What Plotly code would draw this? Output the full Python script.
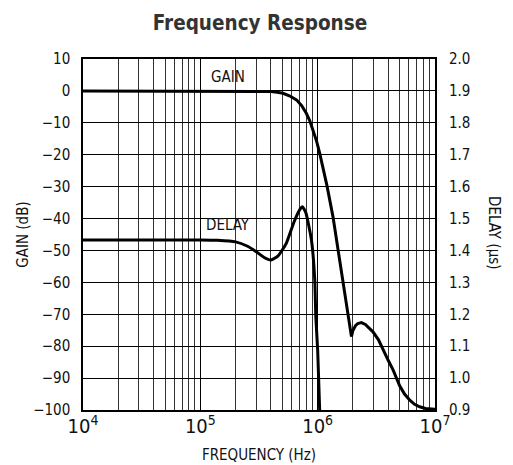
import plotly.graph_objects as go

# Gain curve (frequency in Hz, gain in dB)
gain_freq = [1e4, 1e5, 3e5, 4e5, 4.5e5, 5.07e5, 5.8e5, 6.6e5, 7.3e5, 8.0e5, 8.6e5,
             9.15e5, 9.8e5, 1.04e6, 1.2e6, 1.35e6, 1.5e6, 1.65e6, 1.8e6, 1.94e6,
             2.0e6, 2.1e6, 2.2e6, 2.36e6, 2.55e6, 2.7e6, 2.96e6, 3.3e6, 3.6e6,
             4.0e6, 4.4e6, 4.7e6, 5.0e6, 5.5e6, 6.1e6, 6.7e6, 7.4e6, 8.3e6, 9.3e6, 1e7]
gain_db = [0, 0, 0, -0.2, -0.4, -0.75, -1.6, -2.8, -4.6, -7, -9.5,
           -12.2, -15.8, -19.5, -29.7, -39.4, -50.3, -60.3, -69.2, -77,
           -75, -73.6, -72.9, -72.6, -73.2, -74, -75.5, -78, -81.2,
           -84.5, -87.5, -90.3, -92.4, -95, -96.9, -98.2, -99, -99.5, -99.7, -99.8]

# Delay curve (frequency in Hz, delay in microseconds)
delay_freq = [1e4, 1e5, 1.4e5, 2e5, 2.5e5, 3e5, 3.5e5, 4e5, 4.6e5, 5.4e5,
              6.3e5, 7.1e5, 7.4e5, 7.9e5, 8.85e5, 9.45e5, 9.65e5, 1.0e6, 1.04e6]
delay_us = [1.433, 1.433, 1.432, 1.427, 1.414, 1.396, 1.378, 1.370, 1.383, 1.422,
            1.49, 1.53, 1.537, 1.52, 1.433, 1.307, 1.19, 1.088, 0.9]

FONT = "DejaVu Sans Condensed, Roboto, Arial, sans-serif"

L, R, T, B, W, H = 83, 78, 59, 55, 513, 465
PW, PH = W - L - R, H - T - B

fig = go.Figure()
fig.add_trace(go.Scatter(x=gain_freq, y=gain_db, mode="lines",
                         line=dict(color="black", width=3),
                         showlegend=False))
fig.add_trace(go.Scatter(x=delay_freq, y=delay_us, mode="lines", yaxis="y2",
                         line=dict(color="black", width=3, shape="spline", smoothing=0.5),
                         showlegend=False))

fig.update_layout(
    width=W, height=H,
    margin=dict(l=L, r=R, t=T, b=B, autoexpand=False),
    paper_bgcolor="white", plot_bgcolor="white",
    font=dict(family=FONT, size=15, color="#111"),
    title=dict(text="<b>Frequency Response</b>", x=(260) / W, xanchor="center",
               y=1 - 23 / H, yanchor="middle", automargin=False,
               font=dict(family=FONT, size=20.5, color="#333")),
    xaxis=dict(type="log", range=[4, 7], dtick=1, exponentformat="power",
               showexponent="all", showgrid=True, gridcolor="black", gridwidth=1,
               minor=dict(dtick="D1", showgrid=True, gridcolor="#333", gridwidth=1, ticks=""),
               showline=True, linecolor="black", linewidth=1.5, mirror=True,
               ticks="", ticklabelstandoff=-2, tickfont=dict(size=16), automargin=False,
               title=dict(text="FREQUENCY (Hz)", standoff=13, font=dict(size=15))),
    yaxis=dict(range=[-100, 10], dtick=10, tick0=0, showgrid=True, gridcolor="black",
               gridwidth=1, zeroline=False, showline=True, linecolor="black",
               linewidth=1.5, mirror=True, ticks="", ticklabelstandoff=8,
               tickfont=dict(size=15), automargin=False,
               title=dict(text="GAIN (dB)", standoff=1, font=dict(size=15))),
    yaxis2=dict(range=[0.9, 2.0], dtick=0.1, tick0=0.9, tickformat=".1f",
                overlaying="y", side="right", showgrid=False, zeroline=False,
                ticks="", ticklabelstandoff=13, tickfont=dict(size=15), automargin=False),
    annotations=[
        dict(text="GAIN", x=5.235, y=4.3, xref="x", yref="y", showarrow=False,
             font=dict(size=15), xanchor="center", yanchor="middle"),
        dict(text="DELAY", x=5.234, y=-42, xref="x", yref="y", showarrow=False,
             font=dict(size=15), xanchor="center", yanchor="middle"),
        dict(text="DELAY (µs)", x=(494 - L) / PW, y=1 - (233 - T) / PH,
             xref="paper", yref="paper", xanchor="center", yanchor="middle",
             showarrow=False, textangle=90, font=dict(size=15)),
    ],
)

fig.write_html("out.html", config={"displayModeBar": False},
               post_script="document.body.style.margin='0';")
